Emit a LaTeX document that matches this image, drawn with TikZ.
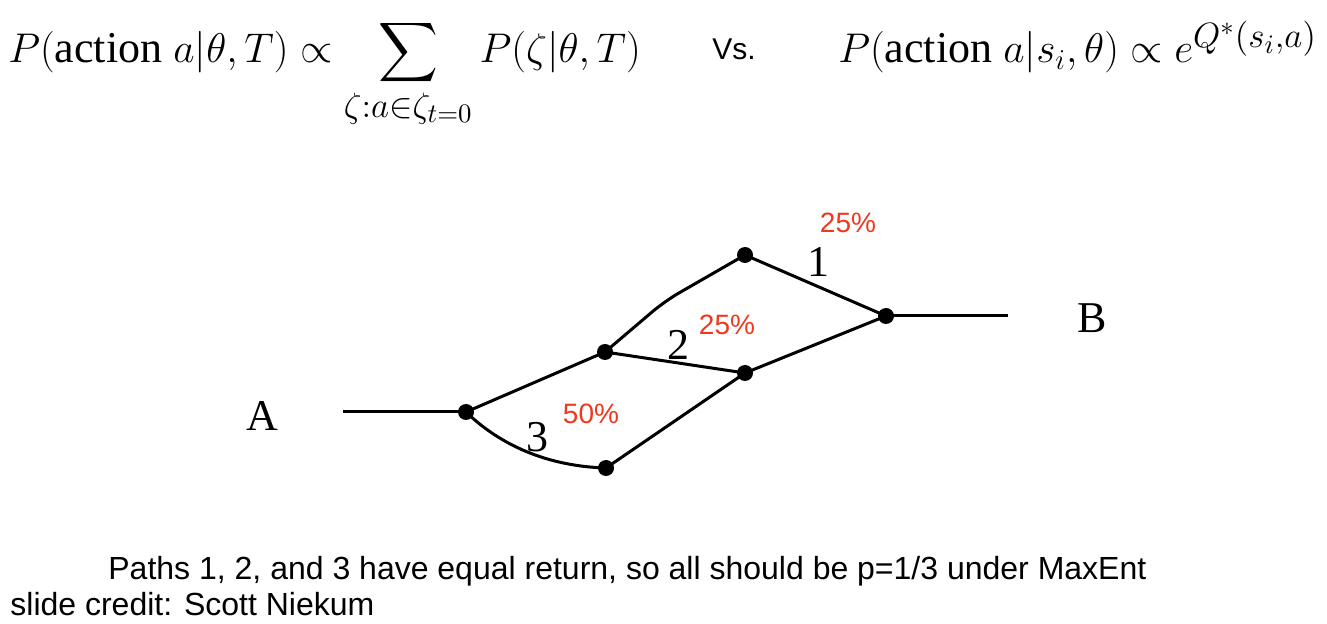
\documentclass[tikz,border=0pt]{standalone}
\usepackage{amsmath}
\usepackage{graphicx}
\usepackage{fontspec}
\newfontfamily\arialfont{Liberation Sans}
\newfontfamily\timesfont{Liberation Serif}
\definecolor{pctred}{RGB}{240,56,30}
\newcommand{\actiontext}{\text{\timesfont action }}
\newcommand{\bigscript}[1]{\scalebox{1.22}{$\scriptstyle #1$}}

\begin{document}
\begin{tikzpicture}[x=0.5pt,y=-0.5pt,
  dot/.style={circle,fill=black,inner sep=0pt,minimum size=8pt},
  edge/.style={line width=1.5pt},
  pct/.style={text=pctred,font=\arialfont\fontsize{14}{16}\selectfont},
  lbl/.style={font=\timesfont\fontsize{22}{24}\selectfont},
  formula/.style={anchor=base west,inner sep=0pt,font=\fontsize{22}{26}\selectfont},
  note/.style={anchor=base west,inner sep=0pt,font=\arialfont\fontsize{16}{18}\selectfont}]
  \useasboundingbox (0,0) rectangle (1327,624);
  % formulas on top
  \node[formula] (lhs) at (8,63)
    {$\displaystyle P(\actiontext a|\theta,T)\propto\sum_{\bigscript{\zeta:a\in\zeta_{t=0}}}P(\zeta|\theta,T)$};
  \node[note,font=\arialfont\fontsize{15}{18}\selectfont] (vs) at (712,60) {Vs.};
  \node[formula] (rhs) at (838,63)
    {$P(\actiontext a|s_i,\theta)\propto e^{\bigscript{Q^*(s_i,a)}}$};
  % path graph
  \node[lbl] (A) at (262,416) {A};
  \node[lbl] (B) at (1092,318) {B};
  \coordinate (start) at (343,412);
  \coordinate (end) at (1008,316);
  \node[dot] (n1) at (466,412) {};
  \node[dot] (n2) at (605,352) {};
  \node[dot] (n3) at (606,468) {};
  \node[dot] (n4) at (745,255) {};
  \node[dot] (n5) at (745,373) {};
  \node[dot] (n6) at (886,316) {};
  \coordinate (bend) at (665,301);
  \draw[edge] (start) -- (n1.center);
  \draw[edge] (n1.center) -- (n2.center);
  \draw[edge] (n1.center) .. controls (495,440) and (540,466) .. (n3.center);
  \draw[edge,rounded corners=8pt] (n2.center) -- (bend) -- (n4.center);
  \draw[edge] (n2.center) -- (n5.center);
  \draw[edge] (n3.center) -- (n5.center);
  \draw[edge] (n4.center) -- (n6.center);
  \draw[edge] (n5.center) -- (n6.center);
  \draw[edge] (n6.center) -- (end);
  % path numbers
  \node[lbl] (p1) at (818,262) {1};
  \node[lbl] (p2) at (678,345) {2};
  \node[lbl] (p3) at (537,437) {3};
  \node[pct] (q1) at (848,223) {25\%};
  \node[pct] (q2) at (727,325) {25\%};
  \node[pct] (q3) at (591,414) {50\%};
  % caption
  \node[note] (cap) at (108,580)
    {Paths 1, 2, and 3 have equal return, so all should be p=1/3 under MaxEnt};
  \node[note] (credit) at (10,615) {slide credit: Scott Niekum};
\end{tikzpicture}
\end{document}
